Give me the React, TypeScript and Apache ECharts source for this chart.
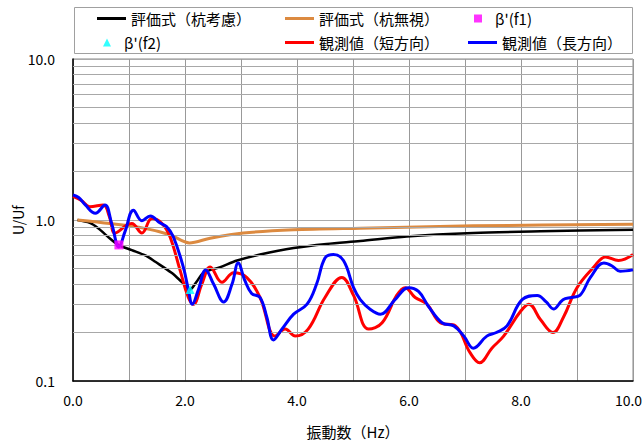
import React, { useEffect, useRef } from "react";
import * as echarts from "echarts";

const FONT = '"Noto Sans CJK JP", "Noto Sans", sans-serif';

// Frequencies (Hz) and ratio U/Uf
const blackF = [0.08, 0.3, 0.45, 0.6, 0.81, 1.05, 1.3, 1.47, 1.76, 1.95, 2.09, 2.2, 2.33, 2.63, 2.93, 3.34, 3.94, 4.53, 5.13, 5.96, 7.15, 8.35, 10];
const blackV = [1.0, 0.96, 0.89, 0.8, 0.7, 0.65, 0.6, 0.55, 0.47, 0.41, 0.37, 0.41, 0.47, 0.51, 0.56, 0.61, 0.67, 0.71, 0.74, 0.79, 0.83, 0.85, 0.87];

const orangeF = [0.08, 0.66, 1.26, 1.73, 2.08, 2.45, 3.04, 3.94, 5.13, 7.15, 10];
const orangeV = [1.0, 0.95, 0.89, 0.81, 0.72, 0.77, 0.83, 0.87, 0.89, 0.92, 0.94];

const redF = [0, 0.15, 0.3, 0.54, 0.65, 0.75, 0.96, 1.05, 1.23, 1.41, 1.59, 1.73, 1.91, 2.06, 2.15, 2.3, 2.45, 2.66, 2.87, 3.1, 3.34, 3.61, 3.79, 3.97, 4.2, 4.5, 4.8, 5.01, 5.28, 5.52, 5.78, 5.93, 6.11, 6.32, 6.56, 6.83, 7.09, 7.26, 7.48, 7.69, 7.99, 8.14, 8.35, 8.57, 8.76, 9.0, 9.3, 9.51, 9.74, 10];
const redV = [1.4, 1.32, 1.21, 1.24, 1.05, 0.83, 0.93, 0.95, 0.83, 1.02, 0.95, 0.79, 0.49, 0.33, 0.3, 0.4, 0.51, 0.41, 0.47, 0.44, 0.33, 0.19, 0.21, 0.19, 0.21, 0.33, 0.44, 0.34, 0.21, 0.23, 0.34, 0.38, 0.33, 0.3, 0.23, 0.22, 0.15, 0.13, 0.16, 0.19, 0.27, 0.3, 0.24, 0.2, 0.25, 0.38, 0.51, 0.59, 0.56, 0.61];

const blueF = [0, 0.1, 0.22, 0.4, 0.57, 0.69, 0.82, 0.93, 1.08, 1.23, 1.38, 1.55, 1.67, 1.79, 1.97, 2.06, 2.13, 2.24, 2.37, 2.51, 2.69, 2.84, 2.95, 3.07, 3.19, 3.34, 3.46, 3.58, 3.73, 3.94, 4.18, 4.35, 4.5, 4.65, 4.83, 5.01, 5.13, 5.3, 5.49, 5.75, 5.99, 6.17, 6.35, 6.59, 6.8, 6.98, 7.15, 7.39, 7.56, 7.75, 8.02, 8.29, 8.45, 8.58, 8.75, 8.9, 9.05, 9.24, 9.48, 9.62, 9.77, 10];
const blueV = [1.43, 1.38, 1.24, 1.1, 1.24, 0.95, 0.68, 0.85, 1.15, 0.99, 1.06, 0.96, 0.91, 0.79, 0.51, 0.37, 0.3, 0.37, 0.49, 0.4, 0.31, 0.4, 0.54, 0.42, 0.35, 0.33, 0.25, 0.18, 0.21, 0.26, 0.3, 0.4, 0.58, 0.61, 0.56, 0.38, 0.32, 0.28, 0.26, 0.32, 0.38, 0.36, 0.29, 0.23, 0.22, 0.19, 0.16, 0.19, 0.2, 0.22, 0.32, 0.34, 0.31, 0.28, 0.32, 0.33, 0.34, 0.44, 0.54, 0.52, 0.48, 0.49];

const f1Point = [0.82, 0.7];
const f2Point = [2.09, 0.37];

const minorGridY = [0.2, 0.3, 0.4, 0.5, 0.6, 0.7, 0.8, 0.9, 2, 3, 4, 5, 6, 7, 8, 9];

const names = {
  black: "評価式（杭考慮）",
  orange: "評価式（杭無視）",
  f1: "β'(f1)",
  f2: "β'(f2)",
  red: "観測値（短方向）",
  blue: "観測値（長方向）",
};

const zip = (xs: number[], ys: number[]) => xs.map((x, i) => [x, ys[i]]);

const SQUARE = "path://M0,0L1,0L1,1L0,1Z";
const TRIANGLE = "path://M0.5,0L1,1L0,1Z";

export default function App() {
  const ref = useRef<HTMLDivElement>(null);
  useEffect(() => {
    if (!ref.current) return;
    const chart = echarts.init(ref.current, null, { renderer: "svg" });
    const legendText = { fontSize: 15, color: "#000", fontFamily: FONT };
    const mkLegend = (name: string, left: number, top: number, icon: string, w: number, h: number) => ({
      data: [name],
      left,
      top,
      padding: 0,
      icon,
      itemWidth: w,
      itemHeight: h,
      itemGap: 0,
      textStyle: legendText,
      selectedMode: false,
    });
    chart.setOption({
      animation: false,
      textStyle: { fontFamily: FONT },
      graphic: [
        {
          type: "rect",
          z: 0,
          shape: { x: 74.5, y: 7.5, width: 558, height: 46 },
          style: { fill: "#fff", stroke: "#a0a0a0", lineWidth: 1 },
        },
      ],
      legend: [
        mkLegend(names.black, 97, 11, "rect", 29, 3),
        mkLegend(names.orange, 285, 11, "rect", 29, 3),
        mkLegend(names.f1, 474, 11, SQUARE, 24, 8),
        mkLegend(names.f2, 103, 35, TRIANGLE, 24, 8),
        mkLegend(names.red, 285, 35, "rect", 29, 3),
        mkLegend(names.blue, 468, 35, "rect", 29, 3),
      ],
      grid: {
        left: 73,
        right: 10,
        top: 59,
        bottom: 60,
        outerBoundsMode: "none",
        containLabel: false,
        show: true,
        borderColor: "#888",
        borderWidth: 1,
        backgroundColor: "#fff",
      },
      xAxis: {
        type: "value",
        min: 0,
        max: 10,
        interval: 1,
        name: "振動数（Hz）",
        nameLocation: "middle",
        nameGap: 43,
        nameMoveOverlap: false,
        nameTextStyle: { fontSize: 15, color: "#000", fontFamily: FONT },
        axisLine: { show: true, onZero: false, lineStyle: { color: "#000", width: 1.5 } },
        axisTick: { show: false },
        axisLabel: {
          margin: 12,
          fontSize: 14,
          color: "#000",
          fontFamily: FONT,
          hideOverlap: false,
          formatter: (v: number) => {
            if (Math.round(v) % 2 !== 0) return "";
            return v >= 10 ? "{edge|" + v.toFixed(1) + "}" : v.toFixed(1);
          },
          rich: {
            edge: { fontSize: 14, color: "#000", fontFamily: FONT, padding: [0, 9, 0, 0] },
          },
        },
        splitLine: { show: true, lineStyle: { color: "#999", width: 1 } },
      },
      yAxis: {
        type: "log",
        logBase: 10,
        min: 0.1,
        max: 10,
        name: "U/Uf",
        nameLocation: "middle",
        nameGap: 48,
        nameMoveOverlap: false,
        nameTextStyle: { fontSize: 14, color: "#000", fontFamily: FONT },
        axisLine: { show: true, lineStyle: { color: "#000", width: 1.5 } },
        axisTick: { show: false },
        axisLabel: {
          margin: 18,
          fontSize: 14,
          color: "#000",
          fontFamily: FONT,
          formatter: (v: number) => v.toFixed(1),
        },
        splitLine: { show: true, lineStyle: { color: "#aaa", width: 1 } },
      },
      series: [
        {
          name: "gridlines",
          type: "line",
          data: [],
          z: 1,
          silent: true,
          markLine: {
            silent: true,
            symbol: "none",
            label: { show: false },
            lineStyle: { color: "#a8a8a8", width: 1, type: "solid" },
            data: minorGridY.map((v) => ({ yAxis: v })),
          },
        },
        {
          name: names.black,
          type: "line",
          data: zip(blackF, blackV),
          showSymbol: false,
          symbol: "none",
          smooth: 0.3,
          lineStyle: { color: "#000", width: 2.5 },
          itemStyle: { color: "#000" },
          z: 3,
        },
        {
          name: names.orange,
          type: "line",
          data: zip(orangeF, orangeV),
          symbol: "none",
          smooth: 0.3,
          lineStyle: { color: "#DC8A40", width: 3 },
          itemStyle: { color: "#DC8A40" },
          z: 3,
        },
        {
          name: names.red,
          type: "line",
          data: zip(redF, redV),
          symbol: "none",
          smooth: 0.4,
          lineStyle: { color: "#FF0000", width: 3 },
          itemStyle: { color: "#FF0000" },
          z: 4,
        },
        {
          name: names.blue,
          type: "line",
          data: zip(blueF, blueV),
          symbol: "none",
          smooth: 0.4,
          lineStyle: { color: "#0000FF", width: 3 },
          itemStyle: { color: "#0000FF" },
          z: 5,
        },
        {
          name: names.f1,
          type: "scatter",
          data: [f1Point],
          symbol: "rect",
          symbolSize: 9,
          itemStyle: { color: "#FF00FF" },
          z: 6,
        },
        {
          name: names.f2,
          type: "scatter",
          data: [f2Point],
          symbol: "triangle",
          symbolSize: 9,
          itemStyle: { color: "#00FFFF" },
          z: 6,
        },
      ],
    });
    return () => chart.dispose();
  }, []);
  return <div ref={ref} style={{ width: 643, height: 441, position: "absolute", left: 0, top: 0 }} />;
}
